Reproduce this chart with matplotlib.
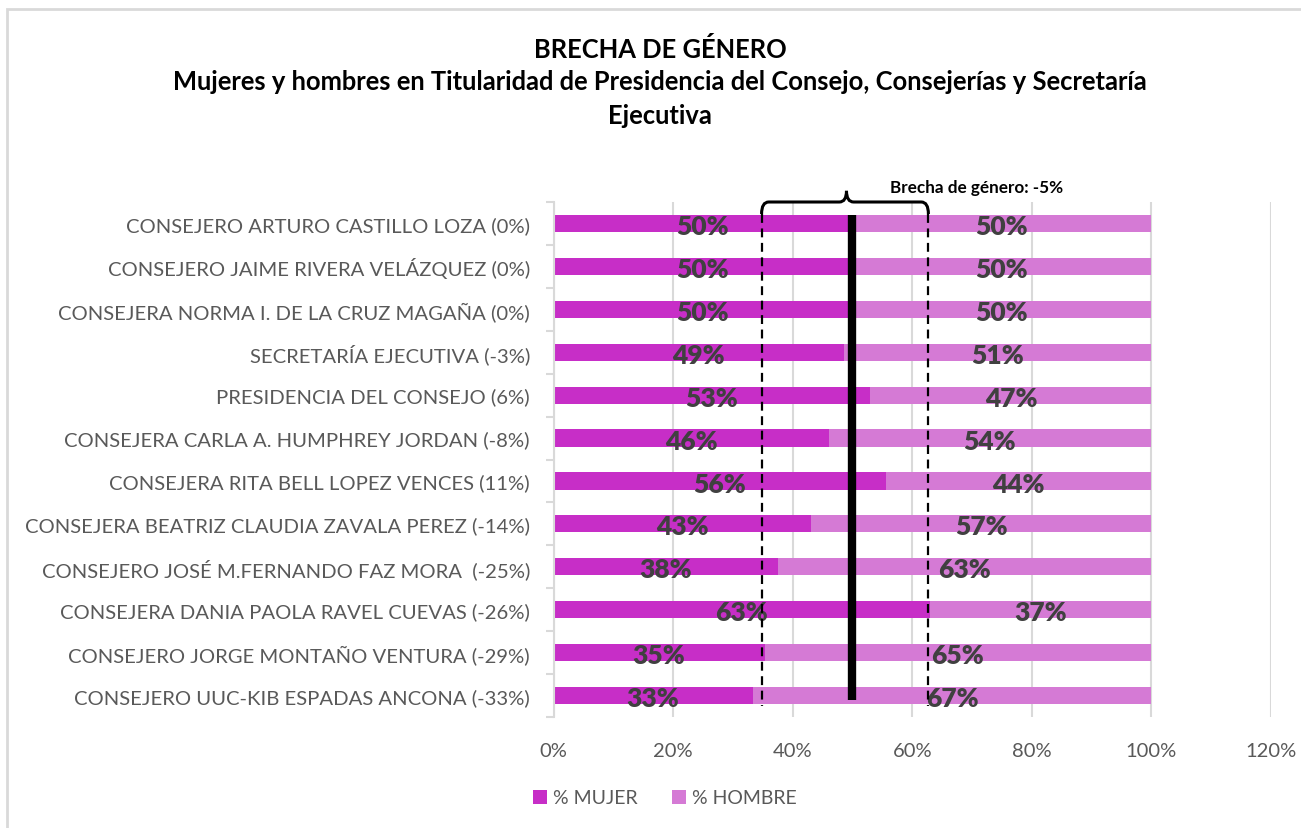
import matplotlib.pyplot as plt
from matplotlib.path import Path
from matplotlib.patches import PathPatch, Rectangle
import numpy as np

plt.rcParams['font.family'] = ['Lato', 'DejaVu Sans']

nombres = ['CONSEJERO ARTURO CASTILLO LOZA (0%)',
           'CONSEJERO JAIME RIVERA VELÁZQUEZ (0%)',
           'CONSEJERA NORMA I. DE LA CRUZ MAGAÑA (0%)',
           'SECRETARÍA EJECUTIVA (-3%)',
           'PRESIDENCIA DEL CONSEJO (6%)',
           'CONSEJERA CARLA A. HUMPHREY JORDAN (-8%)',
           'CONSEJERA RITA BELL LOPEZ VENCES (11%)',
           'CONSEJERA BEATRIZ CLAUDIA ZAVALA PEREZ (-14%)',
           'CONSEJERO JOSÉ M.FERNANDO FAZ MORA  (-25%)',
           'CONSEJERA DANIA PAOLA RAVEL CUEVAS (-26%)',
           'CONSEJERO JORGE MONTAÑO VENTURA (-29%)',
           'CONSEJERO UUC-KIB ESPADAS ANCONA (-33%)']
mujer = [50.0, 50.0, 50.0, 48.6, 53.0, 46.0, 55.6, 43.0, 37.5, 63.0, 35.3, 33.3]
hombre = [50.0, 50.0, 50.0, 51.4, 47.0, 54.0, 44.4, 57.0, 62.5, 37.0, 64.7, 66.7]
brecha_izq = 34.8
brecha_der = 62.7
paridad = 50.0
brecha_texto = 'Brecha de género: -5%'

c_mujer = '#C72EC7'
c_hombre = '#D57AD5'
gris = '#595959'

fig = plt.figure(figsize=(13.01, 8.29), dpi=100)
# marco del gráfico
fig.patches.append(Rectangle((7/1301, -0.1), 1.2, 1 - 10/829 + 0.1, transform=fig.transFigure,
                             fill=False, edgecolor='#d9d9d9', linewidth=2))
ax = fig.add_axes([553.5/1301, 1 - 718/829, (1271 - 553.5)/1301, (718 - 203)/829])

y = np.arange(len(nombres))
m = np.array(mujer) / 100
h = np.array(hombre) / 100
ax.barh(y, m, height=0.4, color=c_mujer, zorder=2, label='% MUJER')
ax.barh(y, h, left=m, height=0.4, color=c_hombre, zorder=2, label='% HOMBRE')

for i in range(len(y)):
    ax.text(m[i] / 2, y[i] + 0.06, '%d%%' % int(mujer[i] + 0.5), ha='center', va='center',
            fontsize=19, fontweight='heavy', color='#404040', zorder=4)
    ax.text(m[i] + h[i] / 2, y[i] + 0.06, '%d%%' % int(hombre[i] + 0.5), ha='center', va='center',
            fontsize=19, fontweight='heavy', color='#404040', zorder=4)

ax.set_xlim(0, 1.2)
ax.set_ylim(len(nombres) - 0.5, -0.5)
ax.set_xticks(np.arange(0, 1.21, 0.2))
ax.set_xticklabels(['%d%%' % round(v * 100) for v in np.arange(0, 1.21, 0.2)])
ax.set_yticks(y)
ax.set_yticklabels(nombres)
ax.set_yticks(np.arange(-0.5, len(nombres), 1), minor=True)
ax.tick_params(axis='y', which='major', length=0, pad=17, labelsize=14.6, labelcolor=gris)
ax.tick_params(axis='y', which='minor', length=6, color='#d9d9d9', width=1.5)
ax.tick_params(axis='x', length=0, pad=18, labelsize=14.5, labelcolor=gris)
ax.grid(axis='x', color='#d9d9d9', linewidth=1.5, zorder=0)
ax.set_axisbelow(True)
for s in ['top', 'right', 'bottom']:
    ax.spines[s].set_visible(False)
ax.spines['left'].set_color('#d9d9d9')
ax.spines['left'].set_linewidth(1.5)

# línea de paridad y brecha
ax.plot([paridad / 100, paridad / 100], [-0.2, 11.1], color='black', linewidth=6,
        solid_capstyle='butt', zorder=5)
for xv in [brecha_izq, brecha_der]:
    ax.plot([xv / 100, xv / 100], [-0.22, 11.25], color='black', linewidth=1.6,
            linestyle=(0, (4, 2.5)), zorder=5, clip_on=False)

xl, xr, xc = brecha_izq / 100, brecha_der / 100, 0.49
d = 0.012
verts = [(xl, -0.22), (xl, -0.5), (xl + d, -0.5),
         (xc - d, -0.5), (xc, -0.5), (xc, -0.76),
         (xc, -0.5), (xc + d, -0.5),
         (xr - d, -0.5), (xr, -0.5), (xr, -0.22)]
codes = [Path.MOVETO, Path.CURVE3, Path.CURVE3,
         Path.LINETO, Path.CURVE3, Path.CURVE3,
         Path.CURVE3, Path.CURVE3,
         Path.LINETO, Path.CURVE3, Path.CURVE3]
ax.add_patch(PathPatch(Path(verts, codes), fill=False, edgecolor='black', linewidth=2.2,
                       clip_on=False, zorder=6))
ax.text(0.563, -0.86, brecha_texto, fontsize=12.3, fontweight='bold', color='black',
        va='center', ha='left')

fig.text(660/1301, 1 - 82/829,
         'BRECHA DE GÉNERO\nMujeres y hombres en Titularidad de Presidencia del Consejo, Consejerías y Secretaría\nEjecutiva',
         ha='center', va='center', fontsize=18.4, fontweight='bold', color='black', linespacing=1.45)

leg = ax.legend(loc='center', bbox_to_anchor=(665/1301, 1 - 799/829), bbox_transform=fig.transFigure,
                ncol=2, frameon=False, fontsize=14, handlelength=0.7, handleheight=0.7,
                handletextpad=0.3, columnspacing=1.8)
for t in leg.get_texts():
    t.set_color(gris)

fig.savefig('out.png', dpi=100)
